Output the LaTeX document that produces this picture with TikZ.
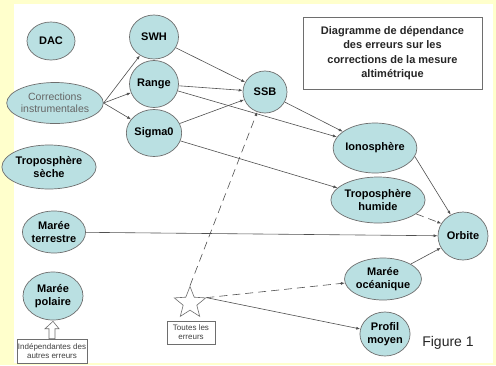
\documentclass[tikz,border=0pt]{standalone}
\usepackage{fontspec}
\setmainfont{Liberation Sans}
\usetikzlibrary{shapes.geometric,arrows.meta,calc}
\definecolor{bgyellow}{RGB}{255,255,204}
\definecolor{nodefill}{RGB}{186,224,226}
\definecolor{edgegray}{RGB}{80,80,80}
\definecolor{bordgray}{RGB}{110,110,110}
\tikzset{
  errnode/.style={ellipse, draw=bordgray, line width=0.7pt, fill=nodefill, inner sep=0pt,
    align=center, font=\fontsize{11}{12.5}\selectfont\bfseries},
  link/.style={draw=edgegray, line width=0.6pt, -{Latex[length=4pt,width=3pt]}},
  dlink/.style={link, dash pattern=on 8pt off 5pt},
  smallbox/.style={draw=bordgray, line width=0.6pt, fill=white, inner sep=1pt, align=center,
    font=\fontsize{8}{9}\selectfont, text=black!75}
}
\begin{document}
\begin{tikzpicture}[x=1pt,y=-1pt]
\fill[bgyellow] (0,0) rectangle (496,365);
\fill[white] (14,4) rectangle (493,363);
\useasboundingbox (0,0) rectangle (496,365);

% nodes
\node[errnode, minimum width=48pt, minimum height=38pt] (dac) at (51,41) {DAC};
\node[errnode, minimum width=82pt, minimum height=41pt, font=\fontsize{10.5}{12}\selectfont, text=black!60] (corr) at (55,103) {Corrections\\instrumentales};
\node[errnode, minimum width=70pt, minimum height=44pt] (tsec) at (49,167) {Troposphère\\sèche};
\node[errnode, minimum width=62pt, minimum height=42pt] (mter) at (54,232) {Marée\\terrestre};
\node[errnode, minimum width=60pt, minimum height=48pt] (mpol) at (53,296) {Marée\\polaire};

\node[errnode, minimum width=49pt, minimum height=44pt] (swh) at (154,37) {SWH};
\node[errnode, minimum width=49pt, minimum height=47pt] (range) at (154,84) {Range};
\node[errnode, minimum width=49pt, minimum height=47pt] (sigma) at (154,133) {Sigma0};

\node[errnode, minimum width=44pt, minimum height=42pt] (ssb) at (265,92) {SSB};
\node[errnode, minimum width=63pt, minimum height=50pt] (iono) at (375,148) {Ionosphère};
\node[errnode, minimum width=75pt, minimum height=46pt] (thum) at (378,200) {Troposphère\\humide};
\node[errnode, minimum width=50pt, minimum height=48pt] (orb) at (463,236) {Orbite};
\node[errnode, minimum width=60pt, minimum height=42pt] (moce) at (383,279) {Marée\\océanique};
\node[errnode, minimum width=48pt, minimum height=44pt] (prof) at (385,334) {Profil\\moyen};

\node[draw=bordgray, line width=0.7pt, fill=white, minimum width=179pt, minimum height=72pt,
  align=center, font=\fontsize{11}{14.5}\selectfont\bfseries, text=black!85] (title) at (392.5,53)
  {Diagramme de dépendance\\des erreurs sur les\\corrections de la mesure\\altimétrique};

\node[font=\fontsize{14}{16}\selectfont, text=black!85] (fig) at (448,343) {Figure 1};

\node[star, star points=5, star point ratio=2.3, draw=bordgray, line width=0.6pt, fill=white,
  minimum size=33pt, inner sep=0pt] (star) at (190,303) {};
\node[smallbox, minimum width=48pt, minimum height=23pt] (toutes) at (191,332.5) {Toutes les\\erreurs};
\node[smallbox, minimum width=70pt, minimum height=24pt] (indep) at (52,351) {Indépendantes des\\autres erreurs};

% hollow up arrow
\coordinate (ha) at (indep.north);
\draw[draw=bordgray, line width=0.6pt, fill=white]
  ($(ha)+(-3,0)$) -- ++(0,-10) -- ++(-4,0) -- ($(mpol.south)+(0,1)$) -- ($(ha)+(7,-10)$) -- ++(-4,0) -- ($(ha)+(3,0)$) -- cycle;

% edges
\draw[link] (corr.east) -- (swh);
\draw[link] (corr.east) -- (range);
\draw[link] (corr.east) -- (sigma);
\draw[link] (swh) -- (ssb);
\draw[link] (range) -- (ssb);
\draw[link] (sigma) -- (ssb);
\draw[link] (range) -- (iono);
\draw[link] (ssb) -- (iono);
\draw[link] (sigma) -- (thum);
\draw[link] (iono.-12) -- (orb.120);
\draw[dlink] (thum.-20) -- (orb.150);
\draw[link] (mter) -- (orb);
\draw[link] (moce) -- (orb);
\draw[dlink] (star.north) -- (ssb);
\draw[dlink] (star.18) -- (moce);
\draw[link] (star.18) -- (prof);
\end{tikzpicture}
\end{document}
